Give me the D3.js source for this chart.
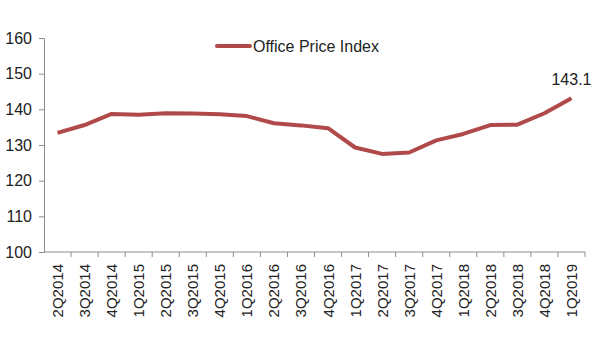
<!DOCTYPE html>
<html>
<head>
<meta charset="utf-8">
<script src="https://cdn.jsdelivr.net/npm/d3@7"></script>
<style>
  body { margin: 0; background: #fff; }
  text { font-family: "Liberation Sans", Arial, sans-serif; fill: #222; }
</style>
</head>
<body>
<svg id="chart"></svg>
<script>
// quarters on the x axis
var quarters = ["2Q2014", "3Q2014", "4Q2014", "1Q2015", "2Q2015", "3Q2015", "4Q2015",
    "1Q2016", "2Q2016", "3Q2016", "4Q2016", "1Q2017", "2Q2017", "3Q2017", "4Q2017",
    "1Q2018", "2Q2018", "3Q2018", "4Q2018", "1Q2019"];

// office price index values
var officeIndex = [133.4, 135.6, 138.7, 138.5, 138.9, 138.8, 138.6, 138.1, 136.1, 135.5,
    134.7, 129.3, 127.5, 127.9, 131.3, 133.1, 135.6, 135.7, 138.9, 143.1];

var yTicks = [100, 110, 120, 130, 140, 150, 160];
var seriesName = "Office Price Index";
var lastLabel = "143.1";

var width = 600,
    height = 360;

var margin = { top: 38, right: 15, bottom: 108, left: 44 };

var svg = d3.select("#chart")
    .attr("width", width)
    .attr("height", height);

var x = d3.scaleBand()
    .domain(quarters)
    .range([margin.left, width - margin.right]);

var y = d3.scaleLinear()
    .domain([100, 160])
    .range([height - margin.bottom, margin.top]);

var axisColor = "#8c8c8c";

// y axis
var yAxis = svg.append("g")
    .attr("transform", "translate(" + margin.left + ",0)")
    .call(d3.axisLeft(y).tickValues(yTicks).tickSize(5).tickPadding(7));
yAxis.selectAll("line, path").attr("stroke", axisColor);
yAxis.selectAll("text").style("font-size", "16px").attr("fill", "#222");

// x axis, ticks on band boundaries
var xAxis = svg.append("g")
    .attr("transform", "translate(0," + y(100) + ")");
xAxis.append("line")
    .attr("x1", margin.left).attr("x2", width - margin.right)
    .attr("stroke", axisColor);
xAxis.selectAll(".tk")
    .data(quarters)
    .enter()
    .append("line")
    .attr("x1", function (d) { return x(d) + x.bandwidth(); })
    .attr("x2", function (d) { return x(d) + x.bandwidth(); })
    .attr("y1", 0).attr("y2", 5)
    .attr("stroke", axisColor);
xAxis.selectAll(".lbl")
    .data(quarters)
    .enter()
    .append("text")
    .attr("transform", function (d) {
        return "translate(" + (x(d) + x.bandwidth() / 2 + 5.5) + ",12) rotate(-90)";
    })
    .attr("text-anchor", "end")
    .style("font-size", "15px")
    .text(function (d) { return d; });

// the line
var line = d3.line()
    .x(function (d, i) { return x(quarters[i]) + x.bandwidth() / 2; })
    .y(function (d) { return y(d); });

svg.append("path")
    .datum(officeIndex)
    .attr("fill", "none")
    .attr("stroke", "#b04a4a")
    .attr("stroke-width", 4)
    .attr("stroke-linejoin", "round")
    .attr("d", line);

// last value label
var last = officeIndex.length - 1;
svg.append("text")
    .attr("x", x(quarters[last]) + x.bandwidth() / 2)
    .attr("y", y(officeIndex[last]) - 13)
    .attr("text-anchor", "middle")
    .style("font-size", "16px")
    .text(lastLabel);

// legend
var legend = svg.append("g").attr("transform", "translate(217,46)");
legend.append("line")
    .attr("x1", 0).attr("x2", 33)
    .attr("stroke", "#b04a4a")
    .attr("stroke-width", 4)
    .attr("stroke-linecap", "round");
legend.append("text")
    .attr("x", 36)
    .attr("y", 5.5)
    .style("font-size", "16px")
    .text(seriesName);
</script>
</body>
</html>
